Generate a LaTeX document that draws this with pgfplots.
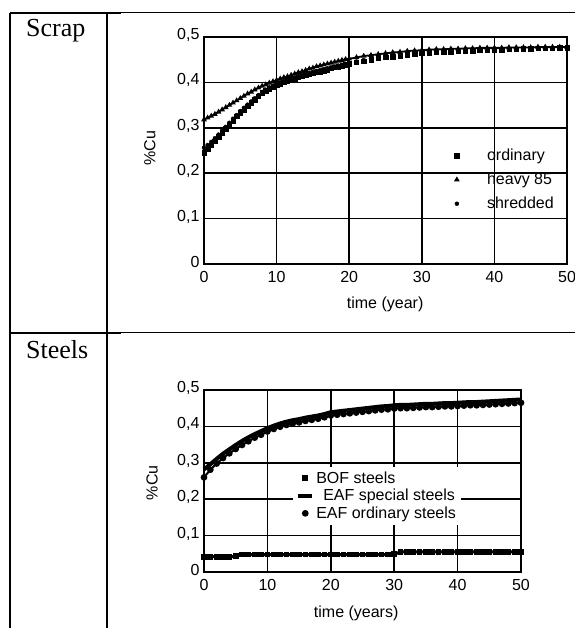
\documentclass[border=0pt]{standalone}
\usepackage{fontspec}
\setmainfont{Liberation Serif}
\setsansfont{Liberation Sans}
\usepackage{pgfplots}
\usepackage{pgfplotstable}
\pgfplotsset{compat=1.18}

% scrap copy content
\pgfplotstableread{
t    ord   heavy shred
0    0.245 0.318 0.256
0.5  0.253 0.322 0.262
1    0.262 0.326 0.269
1.5  0.271 0.330 0.277
2    0.280 0.335 0.285
2.5  0.289 0.340 0.294
3    0.298 0.345 0.302
3.5  0.307 0.350 0.311
4    0.316 0.355 0.320
4.5  0.325 0.360 0.328
5    0.333 0.365 0.337
5.5  0.340 0.370 0.344
6    0.347 0.375 0.351
6.5  0.355 0.379 0.358
7    0.362 0.384 0.365
7.5  0.370 0.388 0.372
8    0.377 0.392 0.379
8.5  0.382 0.395 0.384
9    0.386 0.399 0.389
9.5  0.390 0.402 0.393
10   0.394 0.405 0.397
10.5 0.397 0.408 0.400
11   0.400 0.411 0.403
11.5 0.403 0.413 0.406
12   0.405 0.416 0.408
12.5 0.408 0.419 0.411
13   0.411 0.422 0.414
13.5 0.413 0.424 0.416
14   0.416 0.427 0.419
14.5 0.418 0.430 0.421
15   0.420 0.432 0.423
15.5 0.422 0.435 0.425
16   0.424 0.437 0.427
16.5 0.426 0.439 0.429
17   0.428 0.441 0.431
17.5 0.431 0.443 0.433
18   0.433 0.445 0.435
18.5 0.435 0.447 0.437
19   0.437 0.449 0.439
19.5 0.439 0.451 0.441
20   0.441 0.452 0.443
21   0.444 0.455 0.446
22   0.447 0.458 0.449
23   0.450 0.460 0.452
24   0.453 0.462 0.454
25   0.455 0.464 0.456
26   0.457 0.466 0.458
27   0.459 0.467 0.460
28   0.461 0.469 0.462
29   0.463 0.470 0.464
30   0.464 0.471 0.465
31   0.465 0.472 0.466
32   0.466 0.473 0.467
33   0.467 0.473 0.468
34   0.468 0.474 0.469
35   0.469 0.474 0.469
36   0.470 0.475 0.470
37   0.470 0.475 0.470
38   0.471 0.476 0.471
39   0.471 0.476 0.471
40   0.472 0.476 0.472
41   0.472 0.476 0.472
42   0.473 0.477 0.473
43   0.473 0.477 0.473
44   0.474 0.477 0.473
45   0.474 0.477 0.474
46   0.475 0.478 0.474
47   0.475 0.478 0.474
48   0.475 0.478 0.475
49   0.476 0.478 0.475
50   0.476 0.478 0.475
}\scrapdata

% copy content of steels
\pgfplotstableread{
t   bof   spec  ord
0   0.042 0.282 0.260
1   0.042 0.296 0.281
2   0.042 0.311 0.298
3   0.042 0.325 0.313
4   0.042 0.337 0.326
5   0.043 0.349 0.338
6   0.048 0.360 0.349
7   0.048 0.370 0.359
8   0.048 0.379 0.369
9   0.048 0.387 0.377
10  0.048 0.395 0.386
11  0.048 0.402 0.393
12  0.048 0.408 0.399
13  0.048 0.413 0.404
14  0.048 0.417 0.408
15  0.048 0.420 0.411
16  0.048 0.424 0.415
17  0.048 0.427 0.418
18  0.048 0.430 0.421
19  0.048 0.434 0.425
20  0.048 0.439 0.430
21  0.048 0.441 0.432
22  0.048 0.443 0.434
23  0.048 0.445 0.436
24  0.048 0.447 0.438
25  0.048 0.449 0.440
26  0.048 0.451 0.442
27  0.048 0.453 0.444
28  0.048 0.455 0.446
29  0.048 0.456 0.447
30  0.049 0.458 0.449
31  0.055 0.459 0.450
32  0.055 0.459 0.450
33  0.055 0.460 0.451
34  0.055 0.461 0.452
35  0.055 0.462 0.453
36  0.055 0.462 0.453
37  0.055 0.463 0.454
38  0.055 0.464 0.455
39  0.055 0.464 0.455
40  0.055 0.465 0.456
41  0.055 0.466 0.457
42  0.055 0.467 0.458
43  0.055 0.467 0.458
44  0.055 0.468 0.459
45  0.055 0.469 0.460
46  0.055 0.470 0.461
47  0.055 0.471 0.462
48  0.055 0.472 0.463
49  0.055 0.473 0.464
50  0.055 0.474 0.465
}\steeldata

\newcommand{\chartfont}{\fontsize{16bp}{18bp}\selectfont\sffamily}

\pgfplotsset{
  scanchart/.style={
    scale only axis, xmin=0, xmax=50, ymin=0, ymax=0.5,
    xtick={0,10,20,30,40,50}, ytick={0,0.1,0.2,0.3,0.4,0.5},
    grid=major, major grid style={black, line width=1.6bp},
    axis line style={black, line width=2bp},
    major tick length=0pt,
    tick label style={font=\chartfont},
    xticklabel style={yshift=-4bp},
    yticklabel style={yshift=2bp, xshift=-1bp},
    label style={font=\chartfont},
    /pgf/number format/use comma,
    /pgf/number format/fixed,
    /pgf/number format/precision=1,
    /pgf/number format/assume math mode=true,
    clip=false,
  },
  % legend picture: a single mark
  legmark/.style={legend image code/.code={%
    \draw[##1] plot coordinates {(0bp,0bp)};}},
  legline/.style={legend image code/.code={%
    \draw[##1] (-7bp,0bp) -- (7bp,0bp);}},
}

\begin{document}
\begin{tikzpicture}
\path[use as bounding box] (0bp,0bp) rectangle (575bp,628bp);

% table rules
\draw[line width=2bp] (10bp,615bp) -- (121bp,615bp);
\draw[line width=1bp] (121bp,615bp) -- (575bp,615bp);
\draw[line width=2bp] (10bp,295bp) -- (121bp,295bp);
\draw[line width=1bp] (121bp,295bp) -- (575bp,295bp);
\draw[line width=2bp] (10bp,615bp) -- (10bp,0bp);
\draw[line width=2bp] (107bp,615bp) -- (107bp,0bp);
\node[anchor=base west, inner sep=0pt, font=\fontsize{26bp}{30bp}\selectfont] at (26bp,591bp) {Scrap};
\node[anchor=base west, inner sep=0pt, font=\fontsize{26bp}{30bp}\selectfont] at (26bp,269bp) {Steels};

% scrap
\begin{axis}[scanchart, at={(204bp,364bp)}, anchor=south west,
  width=363bp, height=227bp,
  xlabel={time (year)}, ylabel={\%Cu},
  xlabel style={at={(axis description cs:0.499,-0.18)}, anchor=center},
  ylabel style={at={(axis description cs:-0.149,0.51)}, anchor=center},
  legend style={at={(0.69,0.516)}, anchor=north west, draw=none, fill=none,
    font=\chartfont, row sep=7bp, inner sep=0pt,
    /tikz/every odd column/.append style={column sep=26bp}},
  legend cell align=left]
  \addplot[black, only marks, mark=square*, mark size=2.2bp, legmark]
    table[x=t, y=ord] {\scrapdata};
  \addlegendentry{ordinary}
  \addplot[black, line width=1.8bp, mark=triangle*, mark size=1.5bp, legmark]
    table[x=t, y=heavy] {\scrapdata};
  \addlegendentry{heavy 85}
  \addplot[black, only marks, mark=*, mark size=2bp, legmark]
    table[x=t, y=shred] {\scrapdata};
  \addlegendentry{shredded}
\end{axis}

% steels
\begin{axis}[scanchart, at={(204bp,56bp)}, anchor=south west,
  width=317bp, height=182bp,
  xlabel={time (years)}, ylabel={\%Cu},
  xlabel style={at={(axis description cs:0.48,-0.225)}, anchor=center},
  ylabel style={at={(axis description cs:-0.164,0.49)}, anchor=center},
  legend style={at={(0.281,0.58)}, anchor=north west, draw=none, fill=white,
    font=\chartfont, row sep=0.5bp, inner sep=3bp},
  legend cell align=left]
  \addplot[black, line width=3bp, mark=square*, mark size=1.4bp, legmark]
    table[x=t, y=bof] {\steeldata};
  \addlegendentry{BOF steels}
  \addplot[black, line width=4bp, legline]
    table[x=t, y=spec] {\steeldata};
  \addlegendentry{\hspace{7bp}EAF special steels}
  \addplot[black, line width=2bp, mark=*, mark size=2.3bp, legmark]
    table[x=t, y=ord] {\steeldata};
  \addlegendentry{EAF ordinary steels}
\end{axis}
\end{tikzpicture}
\end{document}
